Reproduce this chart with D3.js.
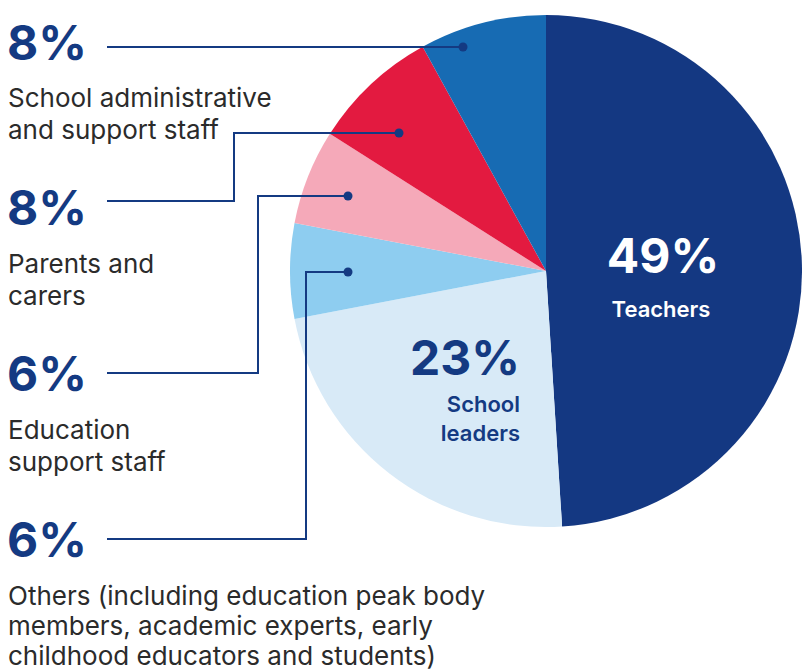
<!DOCTYPE html>
<html>
<head>
<meta charset="utf-8">
<script src="https://cdn.jsdelivr.net/npm/d3@7"></script>
<style>
  html, body { margin: 0; padding: 0; background: #fff; }
  svg { display: block; }
  .pct { font-family: Inter, "Noto Sans", sans-serif; font-weight: 700; fill: #143a82; }
  .lbl { font-family: Inter, "Noto Sans", sans-serif; font-weight: 400; fill: #2b2b2b; }
</style>
</head>
<body>
<svg id="chart" width="802" height="671"></svg>
<script>
// slices in drawing order, clockwise from 12 o'clock
const categories = ["Teachers", "School leaders", "Others", "Education support staff", "Parents and carers", "School administrative and support staff"];
const values = [49, 23, 6, 6, 8, 8];
const colors = ["#143882", "#d8eaf7", "#8ecdf0", "#f5a9b9", "#e31a40", "#176bb3"];

// left-hand callout text, top to bottom (index into categories)
const calloutSlices = [5, 4, 3, 2];
const calloutLines = [
  ["School administrative", "and support staff"],
  ["Parents and", "carers"],
  ["Education", "support staff"],
  ["Others (including education peak body", "members, academic experts, early", "childhood educators and students)"]
];

const svg = d3.select("#chart");
const cx = 546, cy = 271, radius = 256;
const navy = "#143a82";

const pie = d3.pie().sort(null).value(d => d)(values);
const arc = d3.arc().innerRadius(0).outerRadius(radius);

const g = svg.append("g").attr("transform", `translate(${cx},${cy})`);
g.selectAll("path")
  .data(pie)
  .join("path")
  .attr("d", arc)
  .attr("fill", (d, i) => colors[i]);

// inner labels
g.append("text").attr("class", "pct").attr("x", 117).attr("y", 2)
  .attr("text-anchor", "middle").style("font-size", "48px").style("fill", "#fff")
  .text(values[0] + "%");
g.append("text").attr("class", "pct").attr("x", 115).attr("y", 46)
  .attr("text-anchor", "middle").style("font-size", "22px").style("fill", "#fff").style("font-weight", 600)
  .text(categories[0]);

g.append("text").attr("class", "pct").attr("x", -26).attr("y", 104)
  .attr("text-anchor", "end").style("font-size", "48px")
  .text(values[1] + "%");
["School", "leaders"].forEach((t, k) => {
  g.append("text").attr("class", "pct").attr("x", -26).attr("y", 141 + k * 29)
    .attr("text-anchor", "end").style("font-size", "22px").style("font-weight", 600)
    .text(t);
});

// callouts: [pct baseline, line y, elbow x, dot x, dot y, first text baseline, line step]
const layout = [
  [60, 47, null, 463, 47, 107, 32],
  [225, 201, 234, 399, 133, 273, 32],
  [391, 373, 258, 348, 196, 439, 32],
  [557, 539, 306, 348, 272, 605, 30]
];
const callouts = svg.append("g");
calloutSlices.forEach((si, k) => {
  const [py, ly, ex, dx, dy, ty, step] = layout[k];
  callouts.append("text").attr("class", "pct").attr("x", 7).attr("y", py)
    .style("font-size", "48px").text(values[si] + "%");
  const pts = ex === null ? [[107, ly], [dx, dy]] : [[107, ly], [ex, ly], [ex, dy], [dx, dy]];
  callouts.append("path")
    .attr("d", d3.line()(pts))
    .attr("fill", "none").attr("stroke", navy).attr("stroke-width", 2);
  callouts.append("circle").attr("cx", dx).attr("cy", dy).attr("r", 4.5).attr("fill", navy);
  calloutLines[k].forEach((t, j) => {
    callouts.append("text").attr("class", "lbl").attr("x", 8).attr("y", ty + j * step)
      .style("font-size", "26px").text(t);
  });
});
</script>
</body>
</html>
